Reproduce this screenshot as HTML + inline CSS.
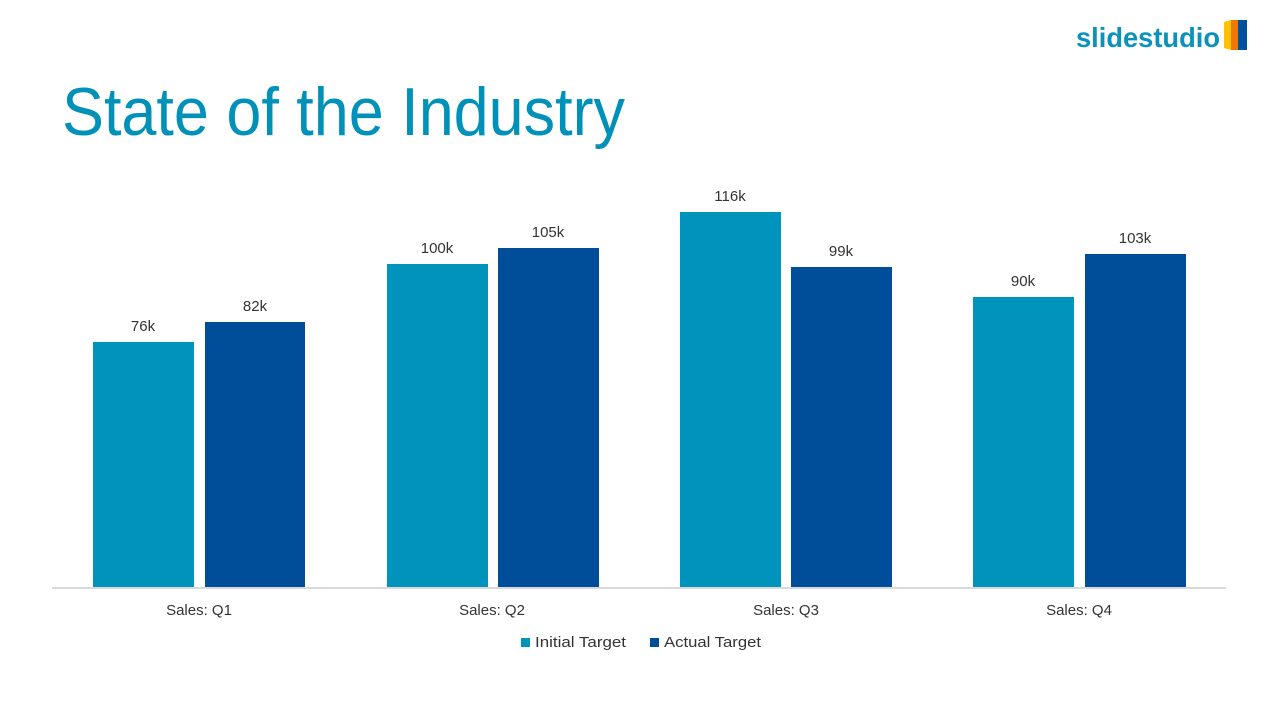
<!DOCTYPE html>
<html><head><meta charset="utf-8"><style>
html,body{margin:0;padding:0;background:#fff;}
svg{display:block}
</style></head><body>
<svg width="1280" height="720" viewBox="0 0 1280 720" xmlns="http://www.w3.org/2000/svg" font-family="Liberation Sans, sans-serif">
<rect width="1280" height="720" fill="#fff"/>
<text x="1076" y="47" font-size="28" font-weight="bold" fill="#0a93ba" textLength="144" lengthAdjust="spacingAndGlyphs">slidestudio</text>
<polygon points="1224,22 1231,20 1231,50 1224,48" fill="#ffc000"/>
<polygon points="1231,20 1238,20 1238,50 1231,50" fill="#f07800"/>
<rect x="1238" y="20" width="9" height="30" fill="#0050a0"/>
<text x="62" y="135" font-size="68" fill="#0091b8" textLength="563" lengthAdjust="spacingAndGlyphs">State of the Industry</text>
<g fill="#0093bb">
<rect x="93" y="342" width="101" height="246"/>
<rect x="387" y="264" width="101" height="324"/>
<rect x="680" y="212" width="101" height="376"/>
<rect x="973" y="297" width="101" height="291"/>
</g>
<g fill="#004e9a">
<rect x="205" y="322" width="100" height="266"/>
<rect x="498" y="248" width="101" height="340"/>
<rect x="791" y="267" width="101" height="321"/>
<rect x="1085" y="254" width="101" height="334"/>
</g>
<rect x="52" y="587" width="1174" height="2" fill="#d9d9d9"/>
<g font-size="15" fill="#333" text-anchor="middle">
<text x="143" y="331">76k</text>
<text x="255" y="311">82k</text>
<text x="437" y="253">100k</text>
<text x="548" y="237">105k</text>
<text x="730" y="201">116k</text>
<text x="841" y="256">99k</text>
<text x="1023" y="286">90k</text>
<text x="1135" y="243">103k</text>
<text x="199" y="615">Sales: Q1</text>
<text x="492" y="615">Sales: Q2</text>
<text x="786" y="615">Sales: Q3</text>
<text x="1079" y="615">Sales: Q4</text>
</g>
<rect x="521" y="638" width="9" height="9" fill="#0093bb"/>
<text x="535" y="647" font-size="15" fill="#333" textLength="91" lengthAdjust="spacingAndGlyphs">Initial Target</text>
<rect x="650" y="638" width="9" height="9" fill="#004e9a"/>
<text x="664" y="647" font-size="15" fill="#333" textLength="97" lengthAdjust="spacingAndGlyphs">Actual Target</text>
</svg>
</body></html>
